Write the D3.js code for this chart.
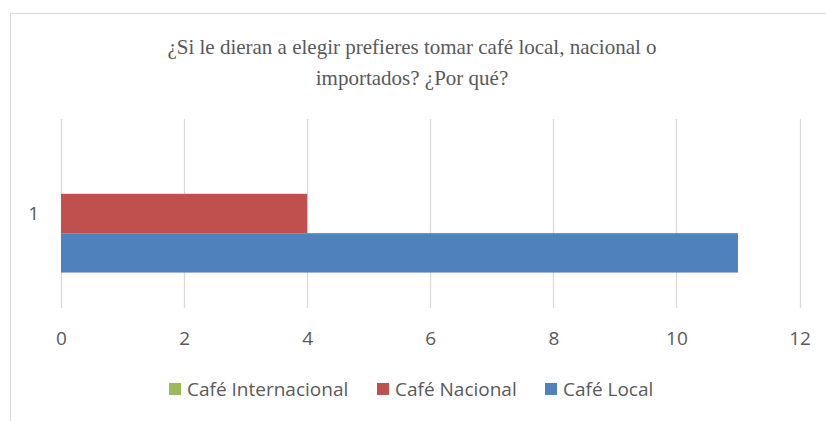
<!DOCTYPE html>
<html>
<head>
<meta charset="utf-8">
<script src="https://cdn.jsdelivr.net/npm/d3@7"></script>
<style>
  body { margin: 0; background: #fff; }
  svg { display: block; }
</style>
</head>
<body>
<script>
// datos del gráfico
const categories = ["1"];
const seriesNames = ["Café Internacional", "Café Nacional", "Café Local"];
const seriesValues = [0, 4, 11];
const seriesColors = ["#9bbb59", "#c0504d", "#4f81bd"];
const xTicks = [0, 2, 4, 6, 8, 10, 12];
const titleLines = ["¿Si le dieran a elegir prefieres tomar café local, nacional o", "importados? ¿Por qué?"];

const W = 826, H = 421;
const svg = d3.select("body").append("svg")
  .attr("width", W)
  .attr("height", H);

// borde del gráfico
svg.append("rect")
  .attr("x", 10.5).attr("y", 13.5)
  .attr("width", 830).attr("height", 420)
  .attr("fill", "#fff")
  .attr("stroke", "#d9d9d9");

// título
svg.append("g").selectAll("text")
  .data(titleLines)
  .enter().append("text")
  .attr("x", 412)
  .attr("y", (d, i) => 54 + i * 31)
  .attr("text-anchor", "middle")
  .attr("font-family", "Liberation Serif, serif")
  .attr("font-size", 21)
  .attr("fill", "#595959")
  .text(d => d);

const x = d3.scaleLinear().domain([0, 12]).range([61, 799.5]);
const y = d3.scaleBand().domain(categories).range([119, 308]);
const inner = d3.scaleBand().domain(seriesNames)
  .range([0, y.bandwidth()]).paddingOuter(0.9).paddingInner(0);

// líneas de cuadrícula
svg.append("g").selectAll("line")
  .data(xTicks)
  .enter().append("line")
  .attr("x1", d => Math.round(x(d)) + 0.5)
  .attr("x2", d => Math.round(x(d)) + 0.5)
  .attr("y1", 119).attr("y2", 308)
  .attr("stroke", "#d9d9d9")
  .attr("stroke-width", 1.3);

// barras
svg.append("g").selectAll("rect")
  .data(seriesNames.map((s, i) => ({ name: s, value: seriesValues[i], color: seriesColors[i] })))
  .enter().append("rect")
  .attr("x", x(0))
  .attr("y", d => y("1") + inner(d.name))
  .attr("width", d => x(d.value) - x(0))
  .attr("height", inner.bandwidth())
  .attr("fill", d => d.color);

// eje x
const xAxis = svg.append("g")
  .attr("transform", "translate(0,345)")
  .call(d3.axisBottom(x).tickValues(xTicks).tickSize(0).tickPadding(0));
xAxis.select(".domain").remove();
xAxis.selectAll("text")
  .attr("font-family", "Open Sans, sans-serif")
  .attr("font-size", 19)
  .attr("fill", "#595959")
  .attr("dy", 0);

// eje y
const yAxis = svg.append("g")
  .attr("transform", "translate(39,0)")
  .call(d3.axisLeft(y).tickSize(0).tickPadding(0));
yAxis.select(".domain").remove();
yAxis.selectAll("text")
  .attr("font-family", "Open Sans, sans-serif")
  .attr("font-size", 19)
  .attr("fill", "#595959");

// leyenda
const legendX = [169, 377, 545];
const legend = svg.append("g").selectAll("g")
  .data(seriesNames)
  .enter().append("g")
  .attr("transform", (d, i) => `translate(${legendX[i]},383)`);
legend.append("rect")
  .attr("width", 12).attr("height", 12)
  .attr("fill", (d, i) => seriesColors[i]);
legend.append("text")
  .attr("x", 18).attr("y", 13)
  .attr("font-family", "Open Sans, sans-serif")
  .attr("font-size", 19)
  .attr("fill", "#595959")
  .text(d => d);
</script>
</body>
</html>
